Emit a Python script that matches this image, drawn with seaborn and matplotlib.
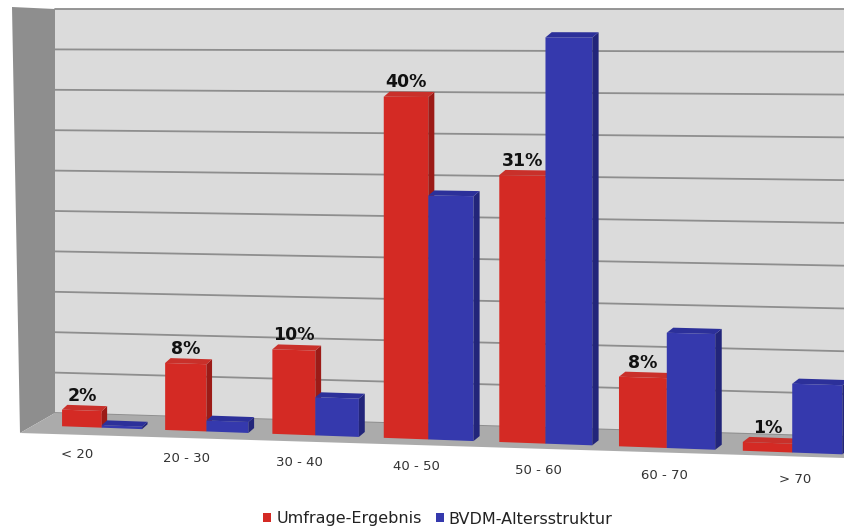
import numpy as np
import pandas as pd
import matplotlib
matplotlib.use("Agg")
import matplotlib.pyplot as plt
import seaborn as sns
from matplotlib import transforms as mtransforms
from matplotlib.patches import Polygon, Rectangle, Patch
from matplotlib.lines import Line2D

# Age groups and shares (percent)
categories = ["< 20", "20 - 30", "30 - 40", "40 - 50", "50 - 60", "60 - 70", "> 70"]
umfrage = [2, 8, 10, 40, 31, 8, 1]
bvdm = [0.3, 1.3, 4.5, 28.5, 47.0, 13.2, 7.8]
series = ["Umfrage-Ergebnis", "BVDM-Altersstruktur"]
grid_values = [0, 5, 10, 15, 20, 25, 30, 35, 40, 45, 50]

front_colors = ["#d42a24", "#3539ad"]
side_colors = ["#9c1b17", "#22257a"]
top_colors = ["#c9302a", "#2c309a"]

sns.set_style("white")
plt.rcParams["font.family"] = ["DejaVu Sans"]

W, H = 845, 530
fig = plt.figure(figsize=(W / 100, H / 100), dpi=100)


def fx(px):
    return px / W


def fy(py):
    return 1 - py / H


class Perspective(mtransforms.Transform):
    """Axes-fraction warp: depth grows toward the right, top edge stays fixed."""
    input_dims = 2
    output_dims = 2
    is_separable = False
    has_inverse = False

    def __init__(self, k, c):
        super().__init__()
        self.k = k
        self.c = c

    def transform_non_affine(self, values):
        xy = np.asarray(values, dtype=float).reshape(-1, 2)
        u = xy[:, 0]
        v = xy[:, 1]
        u2 = u - self.c * u * (1 - u)
        v2 = 1 - (1 - v) * (1 + self.k * u2)
        return np.column_stack([u2, v2])


# ---- back wall with gridlines ----
wall = fig.add_axes([fx(55), fy(413), fx(790), (413 - 9) / H], zorder=0)
wall.set_xlim(0, 1)
wall.set_ylim(0, 50)
wall.set_autoscale_on(False)
wall.set_axis_off()
Tw = wall.transData + wall.transAxes.inverted() + Perspective(0.059, 0.0) + wall.transAxes
wall.add_artist(Rectangle((0, 0), 1, 50, transform=Tw, facecolor="#dbdbdb",
                          edgecolor="none", clip_on=False, zorder=0))
for v in grid_values:
    wall.add_artist(Line2D([0, 1], [v, v], transform=Tw, color="#8e8e8e",
                           lw=1.3, clip_on=False, zorder=1))

# side wall and floor
fig.add_artist(Polygon([(fx(12), fy(7)), (fx(55), fy(9)), (fx(55), fy(413)), (fx(20), fy(433))],
                       closed=True, transform=fig.transFigure, facecolor="#8e8e8e",
                       edgecolor="none", zorder=1))
fig.add_artist(Polygon([(fx(55), fy(413)), (fx(845), fy(437)), (fx(845), fy(458)), (fx(20), fy(433))],
                       closed=True, transform=fig.transFigure, facecolor="#ababab",
                       edgecolor="none", zorder=1))

# ---- bars ----
front = fig.add_axes([fx(55), fy(426), fx(790), (426 - 8) / H], zorder=2)
front.patch.set_visible(False)

df = pd.DataFrame({
    "Altersgruppe": categories * 2,
    "Anteil": umfrage + bvdm,
    "Reihe": [series[0]] * len(categories) + [series[1]] * len(categories),
})
sns.barplot(data=df, x="Altersgruppe", y="Anteil", hue="Reihe", order=categories,
            hue_order=series, palette=front_colors, saturation=1, width=0.78,
            linewidth=0, legend=False, ax=front)

front.set_xlim(-0.46, 6.411)
front.set_ylim(0, 50.4)
front.set_autoscale_on(False)
front.set_axis_off()

T = front.transData + front.transAxes.inverted() + Perspective(0.068, 0.124) + front.transAxes

dxd = 6 * (6.871 / 790)
dyd = 5 * (50.4 / 418)

for i, cont in enumerate(front.containers):
    for p in cont.patches:
        x0, w, h = p.get_x(), p.get_width(), p.get_height()
        p.set_transform(T)
        p.set_clip_on(False)
        p.set_zorder(2 + i)
        side = Polygon([(x0 + w, 0), (x0 + w + dxd, dyd), (x0 + w + dxd, h + dyd), (x0 + w, h)],
                       closed=True, transform=T, facecolor=side_colors[i],
                       edgecolor="none", clip_on=False, zorder=2.5 + i)
        top = Polygon([(x0, h), (x0 + w, h), (x0 + w + dxd, h + dyd), (x0 + dxd, h + dyd)],
                      closed=True, transform=T, facecolor=top_colors[i],
                      edgecolor="none", clip_on=False, zorder=2.5 + i)
        front.add_artist(side)
        front.add_artist(top)

# value labels on the survey bars
lift = mtransforms.ScaledTranslation(0, 4 / 72, fig.dpi_scale_trans)
for p, val in zip(front.containers[0].patches, umfrage):
    front.text(p.get_x() + p.get_width() / 2, val, f"{val}%", transform=T + lift,
               ha="center", va="bottom", fontsize=12.5, fontweight="bold",
               color="#111111", zorder=6, clip_on=False)

# category labels along the front edge of the floor
drop = mtransforms.ScaledTranslation(0, -0.27, fig.dpi_scale_trans)
spread = mtransforms.Affine2D().translate(-715, 0).scale(1.04, 1).translate(715, 0)
for i, cat in enumerate(categories):
    front.text(i, 0, cat, transform=T + drop + spread, ha="center", va="center",
               fontsize=9.5, color="#333333", zorder=6, clip_on=False)

handles = [Patch(facecolor=c, edgecolor="none", label=s) for c, s in zip(front_colors, series)]
fig.legend(handles=handles, loc="center", bbox_to_anchor=(fx(438), fy(519)), ncol=2,
           frameon=False, fontsize=11.5, handlelength=0.5, handleheight=0.5,
           handletextpad=0.3, columnspacing=0.9, labelcolor="#222222")

fig.savefig("out.png", dpi=100)
